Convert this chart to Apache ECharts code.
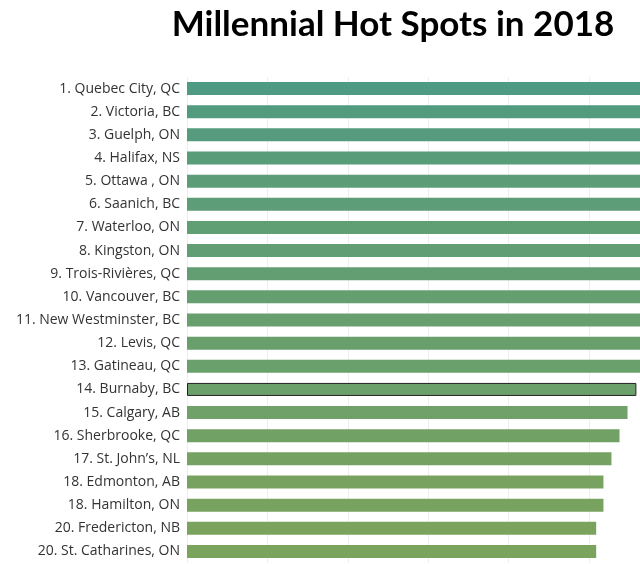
<!DOCTYPE html>
<html>
<head>
<meta charset="utf-8">
<script src="https://cdn.jsdelivr.net/npm/echarts@6/dist/echarts.min.js"></script>
<style>
  html, body { margin: 0; padding: 0; background: #fff; }
  #chart { width: 640px; height: 564px; }
</style>
</head>
<body>
<div id="chart"></div>
<script>
// 城市排名
const cities = [
  '1. Quebec City, QC', '2. Victoria, BC', '3. Guelph, ON', '4. Halifax, NS',
  '5. Ottawa , ON', '6. Saanich, BC', '7. Waterloo, ON', '8. Kingston, ON',
  '9. Trois-Rivières, QC', '10. Vancouver, BC', '11. New Westminster, BC',
  '12. Levis, QC', '13. Gatineau, QC', '14. Burnaby, BC', '15. Calgary, AB',
  '16. Sherbrooke, QC', '17. St. John\u2019s, NL', '18. Edmonton, AB',
  '18. Hamilton, ON', '20. Fredericton, NB', '20. St. Catharines, ON'
];
// 得分 (top bars run past the right edge, estimated)
const scores = [
  66, 64.5, 63.5, 62.5, 61.5, 61, 60, 59.5, 59, 58, 57.5,
  57, 56.5, 55.9, 54.8, 53.8, 52.8, 51.8, 51.8, 50.9, 50.9
];
const highlighted = '14. Burnaby, BC';

let chart = echarts.init(document.getElementById('chart'));
let option = {
  animation: false,
  title: {
    text: 'Millennial Hot Spots in 2018',
    left: 388,
    top: 2,
    textAlign: 'center',
    textStyle: {
      fontFamily: 'Lato',
      fontWeight: 'bold',
      fontSize: 35,
      color: '#000'
    }
  },
  grid: {
    left: 187,
    right: 0,
    top: 77,
    bottom: 1,
    containLabel: false
  },
  visualMap: {
    show: false,
    type: 'continuous',
    dimension: 0,
    min: 50.9,
    max: 66,
    inRange: {
      color: ['#7aa35e', '#4f9a83']
    }
  },
  xAxis: {
    type: 'value',
    min: 0,
    max: 56.35,
    interval: 10,
    axisLabel: { show: false },
    axisLine: { show: false },
    axisTick: { show: false },
    splitLine: {
      show: true,
      lineStyle: { color: '#eeeeee', width: 1 }
    }
  },
  yAxis: {
    type: 'category',
    inverse: true,
    data: cities,
    axisLine: { show: false },
    axisTick: { show: false },
    axisLabel: {
      margin: 7,
      fontFamily: 'Open Sans',
      fontSize: 14,
      color: '#333'
    }
  },
  series: [
    {
      type: 'bar',
      barWidth: 13,
      clip: true,
      data: scores.map((v, i) => {
        if (cities[i] === highlighted) {
          return { value: v, itemStyle: { borderColor: '#222', borderWidth: 1 } };
        }
        return v;
      })
    }
  ]
};
chart.setOption(option);
</script>
</body>
</html>
